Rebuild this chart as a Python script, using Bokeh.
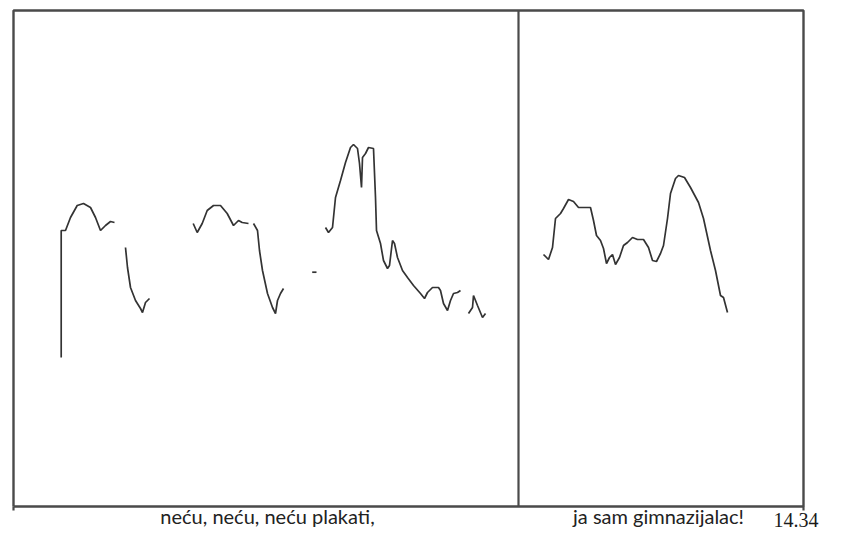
from bokeh.plotting import figure
from bokeh.models import Range1d
from bokeh.core.properties import value
from bokeh.embed import file_html
from bokeh.resources import INLINE

# Pitch contour segments: time (x units) and pitch height (y units above baseline)
seg1_t = [60.7, 60.7, 65, 70, 76.7, 83, 90, 95, 100, 105, 110, 114]
seg1_f = [145, 272, 272, 285, 297, 299, 295, 285, 272, 277, 281, 280]
seg2_t = [125, 127, 130, 135, 140, 142, 145, 149]
seg2_f = [255, 235, 215, 202, 194, 190, 200, 204]
seg3_t = [192.7, 196.7, 201.7, 206.7, 213, 220, 226.7, 233, 238, 241.7, 248]
seg3_f = [279, 270, 279, 292, 297, 297, 289, 277, 282, 280, 279]
seg4_t = [253, 257, 259, 262, 267, 272, 275, 277, 280, 283]
seg4_f = [279, 272, 252, 232, 209, 195, 189, 202, 209, 214]
seg5_t = [311.7, 316]
seg5_f = [230.3, 230.3]
seg6_t = [325, 328, 332, 335, 340, 345, 350, 353, 357, 359, 361, 362, 365, 368, 373,
          375, 376, 380, 383, 387, 389, 392, 394, 397, 402, 407, 413, 420, 424, 427,
          432, 438, 440, 443, 447, 450, 453, 457, 460]
seg6_f = [275, 270, 275, 305, 322, 340, 355, 358, 354, 339, 315, 345, 349, 355, 354,
          305, 272, 259, 242, 234, 237, 262, 259, 245, 232, 225, 217, 209, 204, 210,
          215, 215, 212, 199, 192, 202, 209, 210, 212]
seg7_t = [468, 472, 473, 477, 482, 485]
seg7_f = [189, 195, 207, 197, 185, 189]
seg8_t = [543, 548, 552, 555, 560, 563, 568, 573, 578, 583, 590, 593, 596, 600, 603,
          606, 609, 612, 615, 619, 623, 627, 632, 637, 643, 648, 652, 656, 660, 663,
          667, 670, 675, 678, 684, 690, 698, 703, 710, 715, 720, 723, 727]
seg8_f = [248, 243, 255, 284, 289, 294, 303, 301, 295, 295, 295, 282, 267, 262, 254,
          239, 245, 248, 238, 245, 257, 260, 265, 263, 263, 255, 242, 241, 249, 257,
          284, 309, 324, 327, 325, 315, 300, 284, 252, 232, 207, 205, 190]

# Frame: time span and boundary between the two phrases
t_start, t_split, t_end = 13, 518, 803
f_low, f_high = -4, 492

labels = ["neću, neću, neću plakati,", "ja sam gimnazijalac!"]
label_t = [267, 658]
end_label = "14.34"

p = figure(width=825, height=528, output_backend="svg", toolbar_location=None,
           x_range=Range1d(0, 825), y_range=Range1d(-26, 502),
           min_border=0, min_border_left=0, min_border_right=0,
           min_border_top=0, min_border_bottom=0)
p.axis.visible = False
p.grid.visible = False
p.outline_line_color = None

frame_color = "#4a4a4a"
p.line([t_start, t_end, t_end, t_start, t_start], [f_low, f_low, f_high, f_high, f_low],
       line_color=frame_color, line_width=2.4)
p.line([t_split, t_split], [f_low, f_high], line_color=frame_color, line_width=2.2)
p.segment(x0=[t_start, t_end], y0=[f_low, f_low], x1=[t_start, t_end], y1=[f_low - 4, f_low - 4],
          line_color=frame_color, line_width=2.2)

contour_color = "#333333"
for t, f in [(seg1_t, seg1_f), (seg2_t, seg2_f), (seg3_t, seg3_f), (seg4_t, seg4_f),
             (seg5_t, seg5_f), (seg6_t, seg6_f), (seg7_t, seg7_f), (seg8_t, seg8_f)]:
    p.line(t, f, line_color=contour_color, line_width=1.7)

p.text(x=label_t, y=[-25, -25], text=labels, text_font=value("Lato"),
       text_font_size="20px", text_align="center", text_baseline="bottom",
       text_color="#222222")
p.text(x=[818], y=[-24.5], text=[end_label], text_font=value("Liberation Serif"),
       text_font_size="20px", text_align="right", text_baseline="bottom",
       text_color="#1a1a1a")

open("out.html", "w").write(file_html(p, INLINE))
